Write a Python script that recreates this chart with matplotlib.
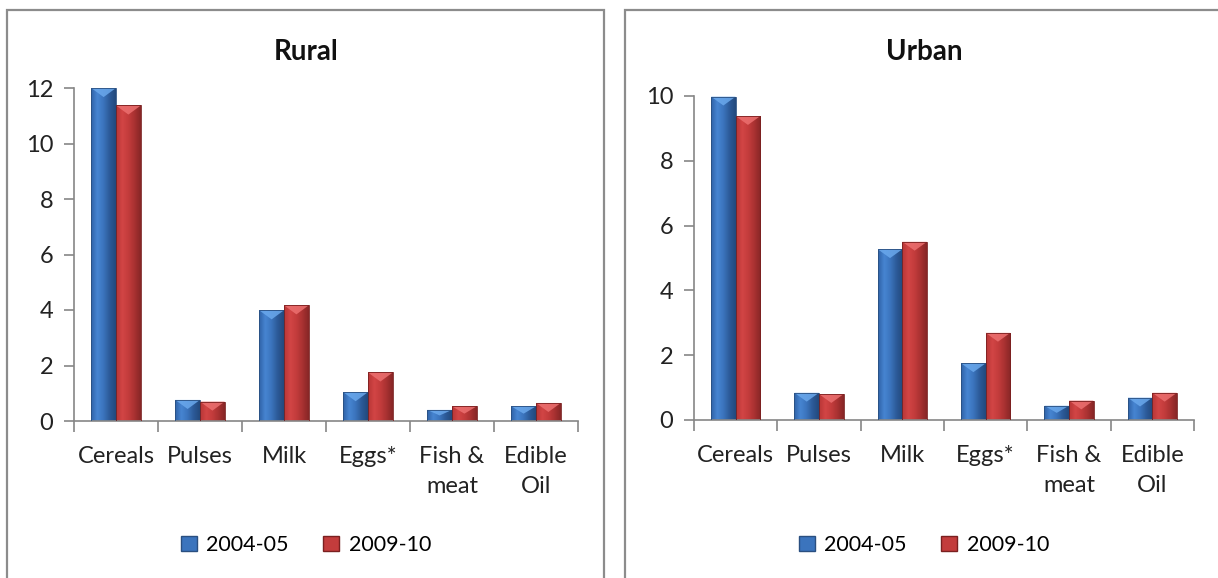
import numpy as np
import matplotlib
matplotlib.use("Agg")
import matplotlib.pyplot as plt
from matplotlib.colors import LinearSegmentedColormap
from matplotlib.patches import Rectangle, Polygon

plt.rcParams['font.family'] = ['Lato', 'DejaVu Sans']

categories = ['Cereals', 'Pulses', 'Milk', 'Eggs*', 'Fish &\nmeat', 'Edible\nOil']
series = ['2004-05', '2009-10']

rural_0405 = [12.0, 0.76, 3.99, 1.04, 0.40, 0.53]
rural_0910 = [11.37, 0.70, 4.17, 1.75, 0.53, 0.65]
urban_0405 = [9.98, 0.84, 5.27, 1.75, 0.44, 0.69]
urban_0910 = [9.38, 0.80, 5.50, 2.69, 0.60, 0.84]

# left / mid / right shades of the bevelled Excel bars
blue_cm = LinearSegmentedColormap.from_list('b', ['#2f62a6', '#4785d2', '#3b74bd', '#2c5a98', '#23497d'])
red_cm = LinearSegmentedColormap.from_list('r', ['#b83636', '#d24545', '#c33c3c', '#a83131', '#872626'])
blue_top, red_top = '#6aa8ec', '#ec7070'
edge_blue, edge_red = '#2a4f80', '#7a2020'

AXIS_GRAY = '#868686'
FS = 17

fig = plt.figure(figsize=(12.18, 5.78), dpi=100)

# panel frames (pixel based)
W, H = 1218, 578
def frame(x0, y0, x1, y1):
    fig.patches.append(Rectangle((x0 / W, 1 - y1 / H), (x1 - x0) / W, (y1 - y0) / H,
                                 transform=fig.transFigure, fill=False,
                                 edgecolor='#8c8c8c', lw=1.6))
frame(7, 10, 604, 600)
frame(625, 10, 1240, 600)

grad = np.linspace(0, 1, 64).reshape(1, -1)


def bevel_bars(ax, xs, vals, cmap, topc, edgec, width, ymax):
    bars = ax.bar(xs, vals, width, color='none', edgecolor=edgec, lw=0.6, zorder=3)
    dh = ymax * 9 / 330.0
    for rect, v in zip(bars, vals):
        x0 = rect.get_x()
        x1 = x0 + rect.get_width()
        im = ax.imshow(grad, extent=[x0, x1, 0, v], aspect='auto', cmap=cmap,
                       zorder=2, interpolation='bicubic')
        im.set_clip_path(rect)
        d = min(dh, v * 0.5)
        tri = Polygon([(x0, v), (x1, v), ((x0 + x1) / 2, v - d)], closed=True,
                      facecolor=topc, edgecolor='none', alpha=0.85, zorder=2.5)
        ax.add_patch(tri)
    return bars


def panel(rect, title, v1, v2, ymax, step, title_x):
    ax = fig.add_axes(rect)
    x = np.arange(len(categories))
    w = 0.295
    bevel_bars(ax, x - w / 2, v1, blue_cm, blue_top, edge_blue, w, ymax)
    bevel_bars(ax, x + w / 2, v2, red_cm, red_top, edge_red, w, ymax)
    ax.set_xlim(-0.5, len(categories) - 0.5)
    ax.set_ylim(0, ymax)
    ax.set_yticks(np.arange(0, ymax + 0.1, step))
    ax.set_xticks(x)
    ax.set_xticklabels(categories, fontsize=FS, color='#222222', linespacing=1.55,
                       va='top')
    ax.set_xticks(np.arange(-0.5, len(categories)), minor=True)
    ax.tick_params(axis='x', which='major', length=0, pad=18)
    ax.tick_params(axis='x', which='minor', length=8, color=AXIS_GRAY, width=1.2)
    ax.tick_params(axis='y', length=7, color=AXIS_GRAY, width=1.2, labelsize=FS,
                   labelcolor='#222222', pad=8)
    for s in ['top', 'right']:
        ax.spines[s].set_visible(False)
    for s in ['left', 'bottom']:
        ax.spines[s].set_color(AXIS_GRAY)
        ax.spines[s].set_linewidth(1.2)
    fig.text(title_x / W, 1 - 52 / H, title, ha='center', va='center',
             fontsize=20, fontweight='bold', color='#111111')
    handles = [Rectangle((0, 0), 1, 1, facecolor='#3b74bd', edgecolor=edge_blue),
               Rectangle((0, 0), 1, 1, facecolor='#c33c3c', edgecolor=edge_red)]
    fig.legend(handles, series, loc='center', ncol=2, frameon=False,
               bbox_to_anchor=(title_x / W, 1 - 545 / H), fontsize=15.5,
               handlelength=0.75, handleheight=0.75, handletextpad=0.45,
               columnspacing=1.6)
    return ax


panel([74 / W, 157 / H, 504 / W, 333 / H], 'Rural', rural_0405, rural_0910, 12, 2, 306)
panel([694 / W, 158 / H, 500 / W, 324 / H], 'Urban', urban_0405, urban_0910, 10, 2, 924)

fig.savefig('out.png', dpi=100, facecolor='white')
